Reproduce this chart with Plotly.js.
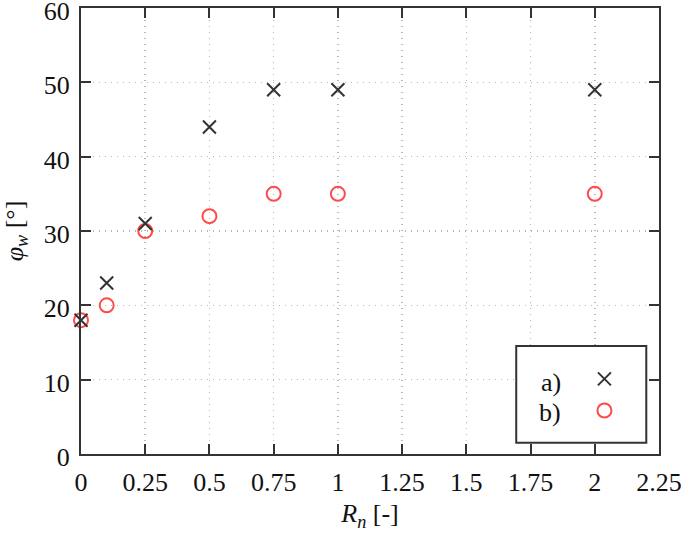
<!DOCTYPE html>
<html><head><meta charset="utf-8">
<script src="https://cdn.plot.ly/plotly-3.0.1.min.js"></script>
<style>body{margin:0;background:#fff}#c{width:685px;height:543px}</style>
</head><body><div id="c"></div>
<script>
const rn = [0, 0.1, 0.25, 0.5, 0.75, 1, 2];
const seriesA = [18, 23, 31, 44, 49, 49, 49];
const seriesB = [18, 20, 30, 32, 35, 35, 35];
const xTicks = [0, 0.25, 0.5, 0.75, 1, 1.25, 1.5, 1.75, 2, 2.25];
const xTickText = ['0', '0.25', '0.5', '0.75', '1', '1.25', '1.5', '1.75', '2', '2.25'];
const yTicks = [0, 10, 20, 30, 40, 50, 60];
const labels = ['a)', 'b)'];

const F = "'Liberation Serif', 'Times New Roman', Times, serif";
const traces = [
  {x: rn, y: seriesB, mode: 'markers', name: ' ', type: 'scatter', cliponaxis: false,
   marker: {symbol: 'circle-open', size: 14, color: '#ff4a4a', line: {width: 2, color: '#ff4a4a'}}},
  {x: rn, y: seriesA, mode: 'markers', name: ' ', type: 'scatter', cliponaxis: false,
   marker: {symbol: 'x-thin-open', size: 13, color: '#333', line: {width: 2, color: '#333'}}}
];
const axisCommon = {
  showline: true, linecolor: '#333', linewidth: 2, mirror: 'ticks',
  ticks: 'inside', ticklen: 10, tickwidth: 2, tickcolor: '#333',
  showgrid: true, gridcolor: '#b8b8b8', gridwidth: 1.5, griddash: '1px,5px',
  zeroline: false, ticklabeloverflow: 'allow',
  tickfont: {family: F, size: 26, color: '#111'}
};
const layout = {
  width: 685, height: 543,
  margin: {l: 81, r: 26, t: 8, b: 89},
  paper_bgcolor: '#fff', plot_bgcolor: '#fff',
  font: {family: F},
  showlegend: true,
  legend: {x: 0.871, y: 0.215, xanchor: 'left', yanchor: 'top', bgcolor: 'rgba(0,0,0,0)',
           borderwidth: 0, font: {family: F, size: 22}, traceorder: 'reversed', tracegroupgap: 0},
  xaxis: Object.assign({}, axisCommon, {range: [0, 2.25], tickvals: xTicks, ticktext: xTickText,
    ticklabelstandoff: 4,
    title: {text: '<i>R<sub>n</sub></i> [-]', font: {family: F, size: 26, color: '#111'}, standoff: 8}}),
  yaxis: Object.assign({}, axisCommon, {range: [0, 60], tickvals: yTicks,
    ticklabelstandoff: 4, ticklabelshift: 3,
    title: {text: '<i>φ<sub>w</sub></i> [°]', font: {family: F, size: 26, color: '#111'}, standoff: 14}}),
  shapes: [{type: 'rect', xref: 'paper', yref: 'paper', x0: 0.753, x1: 0.978, y0: 0.025, y1: 0.242,
            line: {color: '#333', width: 2}, fillcolor: '#fff', layer: 'above'}],
  annotations: labels.map((t, i) => ({text: t, xref: 'paper', yref: 'paper', x: 0.834, y: 0.161 - i * 0.067,
    xanchor: 'right', yanchor: 'middle', showarrow: false, font: {family: F, size: 26, color: '#111'}}))
};
Plotly.newPlot('c', traces, layout, {displayModeBar: false, staticPlot: true});
</script></body></html>
